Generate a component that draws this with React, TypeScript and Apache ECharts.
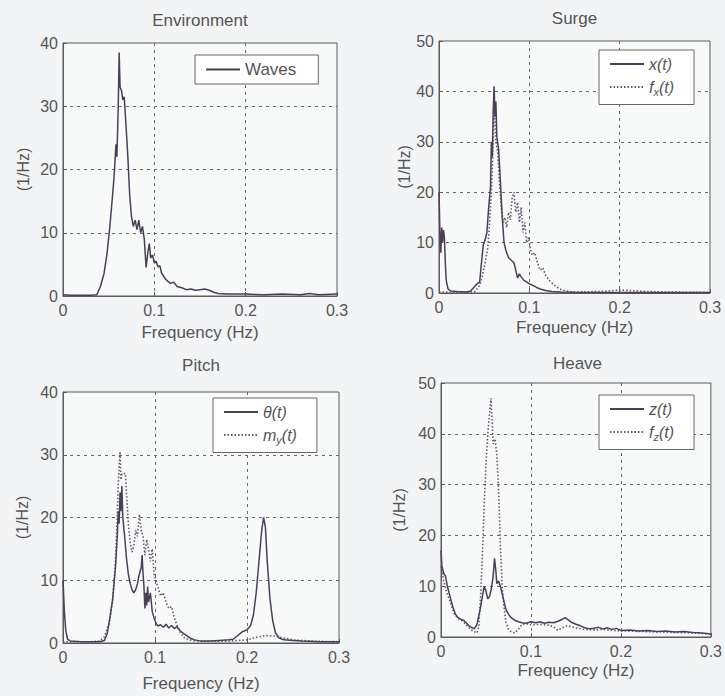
import React, { useEffect, useRef } from "react";
import * as echarts from "echarts";

// ---------- data (frequency Hz, spectral density 1/Hz) ----------
const wavesData: number[][] = [
  [0, 0.2], [0.01, 0.1], [0.02, 0.1], [0.03, 0.1], [0.037, 0.2], [0.041, 1.5], [0.045, 3.6], [0.048, 6.5],
  [0.051, 10.5], [0.054, 15.5], [0.056, 19], [0.058, 24], [0.059, 22], [0.0605, 30], [0.0615, 38.5],
  [0.0625, 33], [0.064, 32.5], [0.0655, 31], [0.067, 31.5], [0.069, 27], [0.071, 22], [0.073, 16],
  [0.075, 12.5], [0.077, 11], [0.079, 12], [0.081, 10.5], [0.083, 12], [0.085, 10], [0.087, 11], [0.089, 9],
  [0.091, 4.5], [0.093, 7], [0.0945, 8.3], [0.096, 6], [0.098, 6.5], [0.1, 5.2], [0.102, 5.5], [0.104, 4.6],
  [0.106, 4.8], [0.108, 3.6], [0.11, 3.2], [0.112, 2.7], [0.115, 2.3], [0.118, 2], [0.121, 2.2], [0.125, 1.5],
  [0.13, 1.3], [0.135, 1.0], [0.14, 1.1], [0.145, 0.9], [0.15, 1.0], [0.155, 1.1], [0.16, 0.9], [0.165, 0.6],
  [0.17, 0.4], [0.18, 0.3], [0.19, 0.3], [0.2, 0.3], [0.22, 0.2], [0.24, 0.3], [0.26, 0.2], [0.27, 0.4],
  [0.28, 0.2], [0.3, 0.3],
];

const surgeX: number[][] = [
  [0, 20], [0.001, 12], [0.002, 8], [0.003, 13], [0.004, 10], [0.005, 12.5], [0.006, 11], [0.007, 6],
  [0.008, 2.5], [0.01, 0.8], [0.013, 0.4], [0.02, 0.3], [0.03, 0.2], [0.035, 0.4], [0.038, 1], [0.042, 1.8],
  [0.045, 2.2], [0.047, 6], [0.049, 9.5], [0.051, 10.5], [0.053, 12], [0.055, 17], [0.057, 21], [0.058, 30],
  [0.059, 27], [0.06, 36], [0.061, 41], [0.062, 35], [0.063, 38], [0.064, 31], [0.066, 28.5], [0.068, 22],
  [0.07, 15], [0.072, 10], [0.074, 8.5], [0.077, 7], [0.08, 6.5], [0.083, 6], [0.085, 4.5], [0.087, 3],
  [0.089, 3.8], [0.091, 3.2], [0.094, 2.5], [0.097, 2.2], [0.1, 1.8], [0.104, 1.5], [0.108, 1.1],
  [0.112, 0.8], [0.118, 0.5], [0.125, 0.3], [0.135, 0.2], [0.15, 0.15], [0.2, 0.1], [0.25, 0.1], [0.3, 0.1],
];

const surgeF: number[][] = [
  [0, 0.2], [0.03, 0.1], [0.04, 0.3], [0.045, 1.5], [0.048, 3.5], [0.051, 6], [0.054, 9], [0.056, 14],
  [0.058, 20], [0.06, 30], [0.061, 38], [0.062, 34], [0.063, 30], [0.065, 28], [0.067, 22], [0.069, 17],
  [0.071, 14], [0.073, 15], [0.075, 13], [0.077, 16], [0.079, 14.5], [0.081, 19], [0.083, 20], [0.085, 16],
  [0.087, 18], [0.089, 14], [0.091, 17], [0.093, 12], [0.095, 14], [0.097, 10], [0.099, 11], [0.101, 9],
  [0.103, 7.5], [0.106, 8], [0.109, 6], [0.112, 4.5], [0.115, 5], [0.118, 3.5], [0.122, 2.5], [0.126, 1.8],
  [0.13, 1.2], [0.135, 0.7], [0.14, 0.4], [0.15, 0.2], [0.18, 0.3], [0.2, 0.6], [0.21, 0.5], [0.23, 0.3],
  [0.25, 0.2], [0.3, 0.1],
];

const pitchTheta: number[][] = [
  [0, 10], [0.0015, 5], [0.003, 2], [0.005, 0.6], [0.008, 0.3], [0.02, 0.2], [0.03, 0.2], [0.04, 0.2],
  [0.045, 0.4], [0.048, 1.5], [0.051, 4], [0.054, 7], [0.057, 12], [0.059, 17], [0.06, 21], [0.061, 19],
  [0.062, 24], [0.063, 21], [0.064, 25], [0.065, 20], [0.067, 17], [0.069, 13.5], [0.071, 11], [0.073, 9.5],
  [0.075, 8.5], [0.077, 8], [0.079, 8.5], [0.081, 9.5], [0.083, 11], [0.085, 12], [0.086, 14], [0.087, 11],
  [0.088, 9], [0.089, 5.5], [0.09, 8], [0.091, 6], [0.092, 9], [0.093, 6.5], [0.095, 8], [0.097, 5],
  [0.099, 4], [0.101, 3.2], [0.103, 2.7], [0.106, 2.9], [0.109, 2.5], [0.112, 3], [0.115, 2.4], [0.118, 2.8],
  [0.121, 2.3], [0.124, 2.6], [0.127, 2], [0.13, 1.6], [0.134, 1.2], [0.138, 0.8], [0.143, 0.5], [0.15, 0.3],
  [0.16, 0.3], [0.17, 0.4], [0.18, 0.5], [0.185, 0.6], [0.19, 1.2], [0.195, 1.8], [0.2, 2.1], [0.204, 2.8],
  [0.207, 4.5], [0.21, 8], [0.213, 13], [0.216, 18], [0.218, 20], [0.22, 18.5], [0.222, 13], [0.225, 7],
  [0.228, 3.5], [0.231, 1.6], [0.235, 0.8], [0.24, 0.5], [0.25, 0.4], [0.26, 0.3], [0.28, 0.2], [0.3, 0.2],
];

const pitchM: number[][] = [
  [0, 0.2], [0.03, 0.2], [0.04, 0.3], [0.045, 1], [0.05, 3], [0.054, 7], [0.057, 13], [0.059, 20],
  [0.06, 25], [0.061, 28], [0.062, 30.5], [0.063, 26], [0.064, 27], [0.066, 27], [0.068, 27], [0.069, 24],
  [0.071, 19], [0.073, 16], [0.075, 14.5], [0.077, 15.5], [0.079, 18], [0.081, 17], [0.083, 20.5],
  [0.085, 18], [0.087, 17], [0.089, 14], [0.091, 16.5], [0.093, 15], [0.095, 13], [0.097, 15], [0.099, 11],
  [0.101, 10], [0.103, 9], [0.106, 7.5], [0.109, 8], [0.112, 6.5], [0.115, 5.5], [0.118, 5.8], [0.121, 4],
  [0.124, 2.8], [0.128, 1.5], [0.132, 0.8], [0.14, 0.4], [0.15, 0.3], [0.18, 0.3], [0.2, 0.5], [0.21, 0.9],
  [0.22, 1.2], [0.23, 1.1], [0.24, 0.8], [0.25, 0.5], [0.27, 0.3], [0.3, 0.2],
];

const heaveZ: number[][] = [
  [0, 17], [0.001, 14], [0.003, 12.5], [0.005, 12], [0.007, 10], [0.01, 8], [0.013, 6], [0.016, 4.5],
  [0.019, 3.8], [0.022, 3.5], [0.025, 3.3], [0.028, 2.8], [0.031, 2.2], [0.034, 1.9], [0.037, 1.6],
  [0.04, 2.5], [0.043, 5], [0.046, 8], [0.048, 10], [0.05, 9], [0.052, 7.5], [0.054, 8], [0.056, 9.5],
  [0.058, 12], [0.0595, 15.5], [0.061, 13], [0.062, 10.5], [0.064, 11], [0.066, 10], [0.068, 8.5],
  [0.07, 7], [0.072, 5.5], [0.075, 4.5], [0.078, 3.8], [0.082, 3.3], [0.086, 3], [0.09, 2.8], [0.095, 2.7],
  [0.1, 3], [0.105, 2.8], [0.11, 3], [0.115, 2.7], [0.12, 2.9], [0.125, 2.8], [0.13, 3.1], [0.135, 3.5],
  [0.138, 3.8], [0.141, 3.4], [0.145, 2.9], [0.15, 2.5], [0.155, 2.2], [0.16, 1.8], [0.165, 1.6],
  [0.17, 1.7], [0.175, 1.9], [0.18, 1.6], [0.185, 1.8], [0.19, 1.5], [0.195, 1.7], [0.2, 1.3], [0.21, 1.4],
  [0.22, 1.2], [0.23, 1.3], [0.24, 1.1], [0.25, 1.2], [0.26, 1], [0.27, 1.1], [0.28, 0.9], [0.29, 0.8],
  [0.3, 0.6],
];

const heaveF: number[][] = [
  [0, 14], [0.003, 11], [0.006, 9], [0.01, 7], [0.015, 4.5], [0.02, 3.5], [0.025, 3], [0.03, 2],
  [0.035, 1.2], [0.04, 0.8], [0.042, 2], [0.044, 8], [0.046, 16], [0.048, 26], [0.05, 34], [0.052, 40],
  [0.054, 44], [0.0555, 47], [0.057, 42], [0.058, 38], [0.06, 39], [0.062, 36], [0.064, 29], [0.066, 18],
  [0.068, 10], [0.07, 6], [0.072, 3], [0.075, 1.5], [0.078, 1], [0.082, 0.8], [0.086, 1.5], [0.09, 2.5],
  [0.095, 2.6], [0.1, 2.4], [0.11, 2.5], [0.12, 2.3], [0.125, 2], [0.13, 1.3], [0.135, 1.8], [0.14, 2.2],
  [0.15, 1.8], [0.16, 1.5], [0.17, 1.4], [0.18, 1.5], [0.19, 1.3], [0.2, 1.2], [0.22, 1.1], [0.24, 1],
  [0.26, 0.9], [0.28, 0.8], [0.3, 0.6],
];

const panelTitles = ["Environment", "Surge", "Pitch", "Heave"];
const yMaxes = [40, 50, 40, 50];
const xAxisName = "Frequency (Hz)";
const yAxisName = "(1/Hz)";

// ---------- styling ----------
const FONT = "Liberation Sans, Arial, sans-serif";
const TXT = "#555555";
const SOLID = "#4a3f58";
const DOT = "#675673";

const grids = [
  { left: 63, top: 43, width: 274, height: 253 },
  { left: 439, top: 41, width: 271, height: 252 },
  { left: 63, top: 392, width: 276, height: 251 },
  { left: 441, top: 383, width: 273, height: 254 },
];
const titleOffsets = [23, 23, 27, 20];
const yNameGaps = [32, 23, 33, 34];
const xNameGaps = [20, 18, 24, 17];
const legendPos = [
  { left: 195, top: 55 },
  { left: 599, top: 50 },
  { left: 213, top: 398 },
  { left: 599, top: 395 },
];

const legendRich: Record<string, string> = {
  "Waves": "{n|Waves}",
  "x(t)": "{i|x(t)}",
  "f_x(t)": "{i|f}{s|x}{i|(t)}",
  "θ(t)": "{i|θ(t)}",
  "m_y(t)": "{i|m}{s|y}{i|(t)}",
  "z(t)": "{i|z(t)}",
  "f_z(t)": "{i|f}{s|z}{i|(t)}",
};

export default function App() {
  const ref = useRef<HTMLDivElement>(null);
  useEffect(() => {
    document.body.style.margin = "0";
    document.body.style.background = "#f3f4f5";
    const chart = echarts.init(ref.current!, null, { renderer: "svg" });

    const panelSeries = [
      [{ name: "Waves", data: wavesData, dotted: false }],
      [{ name: "f_x(t)", data: surgeF, dotted: true }, { name: "x(t)", data: surgeX, dotted: false }],
      [{ name: "m_y(t)", data: pitchM, dotted: true }, { name: "θ(t)", data: pitchTheta, dotted: false }],
      [{ name: "f_z(t)", data: heaveF, dotted: true }, { name: "z(t)", data: heaveZ, dotted: false }],
    ];
    const legendOrder = [["Waves"], ["x(t)", "f_x(t)"], ["θ(t)", "m_y(t)"], ["z(t)", "f_z(t)"]];

    const series: any[] = [];
    panelSeries.forEach((arr, gi) => {
      arr.forEach((s) => {
        series.push({
          type: "line",
          name: s.name,
          xAxisIndex: gi,
          yAxisIndex: gi,
          data: s.data,
          symbol: "none",
          showSymbol: false,
          z: s.dotted ? 2 : 3,
          lineStyle: {
            color: s.dotted ? DOT : SOLID,
            width: s.dotted ? 1.6 : 1.5,
            type: s.dotted ? [1.5, 2] : "solid",
          },
          itemStyle: { color: s.dotted ? DOT : SOLID },
        });
      });
    });

    const option: any = {
      animation: false,
      backgroundColor: "#f3f4f5",
      textStyle: { fontFamily: FONT },
      grid: grids.map((g) => ({
        ...g,
        show: true,
        backgroundColor: "#f8f9f9",
        borderColor: "#5a5a5a",
        borderWidth: 1,
        containLabel: false,
      })),
      xAxis: grids.map((_, i) => ({
        type: "value",
        gridIndex: i,
        min: 0,
        max: 0.3,
        interval: 0.1,
        name: xAxisName,
        nameLocation: "middle",
        nameGap: xNameGaps[i],
        nameTextStyle: { fontSize: 17, color: TXT, fontFamily: FONT, padding: [8, 0, 0, 0] },
        axisLine: { show: true, onZero: false, lineStyle: { color: "#5a5a5a" } },
        axisTick: { show: true, inside: true, length: 4, lineStyle: { color: "#5a5a5a" } },
        axisLabel: {
          fontSize: 16,
          color: TXT,
          fontFamily: FONT,
          margin: 6,
          formatter: (v: number) => (Math.abs(v) < 1e-9 ? "0" : v.toFixed(1)),
        },
        splitLine: {
          show: true,
          showMinLine: false,
          showMaxLine: false,
          lineStyle: { color: "#6a6a6a", type: [3, 4], width: 1 },
        },
      })),
      yAxis: grids.map((_, i) => ({
        type: "value",
        gridIndex: i,
        min: 0,
        max: yMaxes[i],
        interval: 10,
        name: yAxisName,
        nameLocation: "middle",
        nameRotate: 90,
        nameGap: yNameGaps[i],
        nameTextStyle: { fontSize: 16, color: TXT, fontFamily: FONT },
        axisLine: { show: true, lineStyle: { color: "#5a5a5a" } },
        axisTick: { show: true, inside: true, length: 4, lineStyle: { color: "#5a5a5a" } },
        axisLabel: { fontSize: 16, color: TXT, fontFamily: FONT, margin: 5 },
        splitLine: {
          show: true,
          showMinLine: false,
          showMaxLine: false,
          lineStyle: { color: "#6a6a6a", type: [3, 4], width: 1 },
        },
      })),
      legend: legendOrder.map((names, i) => ({
        data: names,
        left: legendPos[i].left,
        top: legendPos[i].top,
        orient: "vertical",
        itemWidth: 34,
        itemHeight: 12,
        itemGap: i === 0 ? 3 : 7,
        padding: i === 0 ? [6, 22, 6, 10] : [6, 20, 7, 10],
        backgroundColor: "#ffffff",
        borderColor: "#666666",
        borderWidth: 1,
        borderRadius: 0,
        selectedMode: false,
        itemStyle: { opacity: 0, borderWidth: 0 },
        formatter: (name: string) => legendRich[name] || name,
        textStyle: {
          color: TXT,
          fontFamily: FONT,
          fontSize: 17,
          rich: {
            n: { fontSize: 17, color: TXT, fontFamily: FONT },
            i: { fontSize: 16, color: TXT, fontFamily: FONT, fontStyle: "italic" },
            s: { fontSize: 11, color: TXT, fontFamily: FONT, fontStyle: "italic", padding: [10, 0, 0, 0] },
          },
        },
      })),
      graphic: panelTitles.map((t, i) => ({
        type: "text",
        x: grids[i].left + grids[i].width / 2,
        y: grids[i].top - titleOffsets[i],
        style: {
          text: t,
          fill: TXT,
          font: `17px ${FONT}`,
          textAlign: "center",
          textVerticalAlign: "middle",
        },
      })),
      series,
    };
    chart.setOption(option);
    return () => chart.dispose();
  }, []);
  return (
    <div
      ref={ref}
      style={{ position: "absolute", left: 0, top: 0, width: 725, height: 696 }}
    />
  );
}
